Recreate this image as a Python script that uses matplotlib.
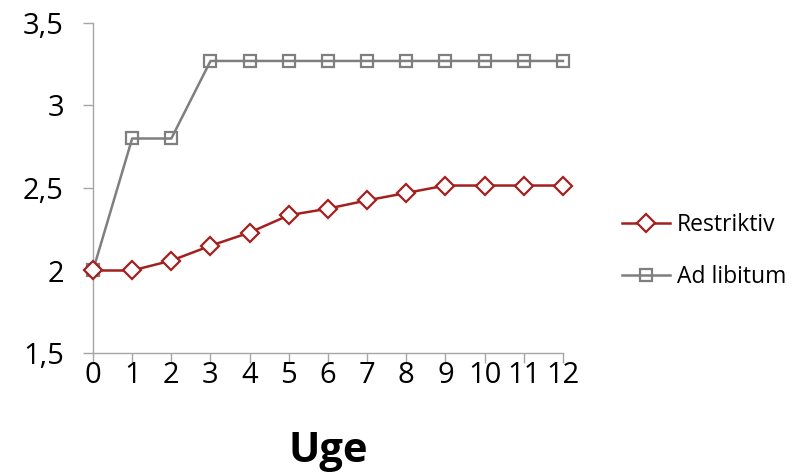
import numpy as np
import matplotlib
matplotlib.use("Agg")
import matplotlib.pyplot as plt

weeks = list(range(13))
restriktiv = [2.0, 2.0, 2.06, 2.15, 2.23, 2.335, 2.375, 2.425, 2.47, 2.515, 2.515, 2.515, 2.515]
ad_libitum = [2.0, 2.8, 2.8, 3.27, 3.27, 3.27, 3.27, 3.27, 3.27, 3.27, 3.27, 3.27, 3.27]
yticks = [1.5, 2, 2.5, 3, 3.5]
ytick_labels = ["1,5", "2", "2,5", "3", "3,5"]

plt.rcParams['font.family'] = ['Open Sans', 'DejaVu Sans']

fig = plt.figure(figsize=(8.12, 4.73), dpi=100)
ax = fig.add_axes([93 / 812, 1 - 353 / 473, 470 / 812, 330 / 473])

red = "#a3201f"
grey = "#7f7f7f"

ax.plot(weeks, ad_libitum, color=grey, lw=1.8, marker="s", ms=8.5,
        mfc="none", mec=grey, mew=1.6, clip_on=False, zorder=3, label="Ad libitum")
ax.plot(weeks, restriktiv, color=red, lw=1.8, marker="D", ms=9,
        mfc="white", mec=red, mew=1.6, clip_on=False, zorder=4, label="Restriktiv")

ax.set_xlim(0, 12)
ax.set_ylim(1.5, 3.5)
ax.set_xticks(weeks)
ax.set_xticklabels([str(w) for w in weeks], fontsize=21)
ax.set_yticks(yticks)
ax.set_yticklabels(ytick_labels, fontsize=21)
ax.tick_params(axis="both", direction="out", length=7, width=1, color="#a6a6a6")
ax.tick_params(axis="y", pad=14)
ax.tick_params(axis="x", pad=-1)

for s in ["top", "right"]:
    ax.spines[s].set_visible(False)
for s in ["left", "bottom"]:
    ax.spines[s].set_color("#a6a6a6")
    ax.spines[s].set_linewidth(1)

ax.set_xlabel("Uge", fontsize=30, fontweight="bold", labelpad=29)

handles, labels = ax.get_legend_handles_labels()
handles, labels = handles[::-1], labels[::-1]
fig.legend(handles, labels, loc="center left", bbox_to_anchor=(613 / 812, 1 - 251 / 473),
           frameon=False, fontsize=16.5, handlelength=2.1, handletextpad=0.3,
           labelspacing=1.2, borderaxespad=0)

fig.savefig("out.png", dpi=100)
